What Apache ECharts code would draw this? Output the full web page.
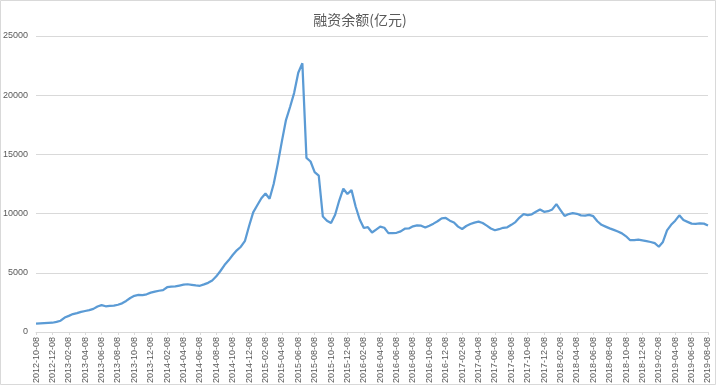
<!DOCTYPE html>
<html>
<head>
<meta charset="utf-8">
<script src="https://cdn.jsdelivr.net/npm/echarts@6/dist/echarts.min.js"></script>
<style>html,body{margin:0;padding:0;background:#fff;}#c{width:720px;height:386px;}</style>
</head>
<body>
<div id="c"></div>
<script>
var titleText = '融资余额(亿元)';
var startYear = 2012, startMonth = 10, endYear = 2019, endMonth = 8;
var yTicks = [0, 5000, 10000, 15000, 20000, 25000];

// semi-monthly observations (08 and 23 of each month), 亿元
var balance2012_2013 = [700, 720, 740, 760, 780, 850, 950, 1220, 1360, 1510, 1590, 1700, 1770, 1840, 1950, 2150,
  2270, 2170, 2200, 2230, 2300, 2420, 2620, 2870, 3050, 3130, 3120, 3180, 3320, 3400];
var balance2014 = [3480, 3540, 3780, 3830, 3850, 3920, 3990, 4030, 3980, 3930, 3900, 4020, 4150, 4350, 4700, 5150,
  5650, 6050, 6500, 6900, 7200, 7700, 8950, 10100, 10700];
var balance2015 = [11300, 11700, 11250, 12500, 14200, 16100, 17900, 19000, 20200, 21900, 22700, 14700, 14400, 13500,
  13200, 9750, 9400, 9200, 9900, 11100, 12100, 11650, 11980, 10600];
var balance2016 = [9500, 8780, 8850, 8400, 8650, 8900, 8800, 8350, 8350, 8380, 8500, 8720, 8740, 8920, 9000, 8980,
  8820, 8980, 9150, 9350, 9600, 9630, 9400, 9250];
var balance2017 = [8900, 8700, 8950, 9120, 9240, 9320, 9200, 8980, 8740, 8590, 8680, 8800, 8840, 9050, 9280, 9660,
  9950, 9870, 9940, 10150, 10350, 10150, 10200, 10350];
var balance2018 = [10800, 10300, 9800, 9960, 10030, 9980, 9850, 9830, 9890, 9780, 9350, 9050, 8900, 8750, 8620, 8480,
  8330, 8080, 7750, 7760, 7800, 7740, 7680, 7600];
var balance2019 = [7500, 7200, 7600, 8580, 9050, 9400, 9850, 9450, 9300, 9150, 9130, 9180, 9150, 9000];

var values = [].concat(balance2012_2013, balance2014, balance2015, balance2016, balance2017, balance2018, balance2019);

var dates = [];
(function () {
  var y = startYear, m = startMonth;
  while (y < endYear || (y === endYear && m <= endMonth)) {
    var mm = (m < 10 ? '0' : '') + m;
    dates.push(y + '-' + mm + '-08');
    if (!(y === endYear && m === endMonth)) dates.push(y + '-' + mm + '-23');
    m++; if (m > 12) { m = 1; y++; }
  }
})();

var chart = echarts.init(document.getElementById('c'));
var txt = '#595959';
var gridColor = '#d9d9d9';
chart.setOption({
  animation: false,
  backgroundColor: '#ffffff',
  title: {
    text: titleText, left: 'center', top: 8,
    textStyle: { fontSize: 14, fontWeight: 'normal', color: txt, fontFamily: 'Noto Sans CJK SC' }
  },
  graphic: [{
    type: 'rect', shape: { x: 0.5, y: 0.5, width: 715, height: 384 },
    style: { fill: 'none', stroke: gridColor, lineWidth: 1 }, silent: true
  }],
  grid: { left: 36, right: 12, top: 36, bottom: 51 },
  xAxis: {
    type: 'category', data: dates, boundaryGap: false,
    axisLine: { lineStyle: { color: gridColor } },
    axisTick: { show: true, interval: 3, length: 3, lineStyle: { color: gridColor } },
    axisLabel: {
      interval: 3, rotate: 90, fontSize: 9, color: txt, margin: 5,
      fontFamily: 'Liberation Sans Narrow, Liberation Sans, sans-serif'
    },
    splitLine: { show: false }
  },
  yAxis: {
    type: 'value', min: yTicks[0], max: yTicks[yTicks.length - 1], interval: yTicks[1] - yTicks[0],
    axisLine: { show: false }, axisTick: { show: false },
    axisLabel: {
      fontSize: 9, color: txt, margin: 8, fontFamily: 'Liberation Sans Narrow, Liberation Sans, sans-serif',
      formatter: function (v) { return String(v); }
    },
    splitLine: { lineStyle: { color: gridColor, width: 1 } }
  },
  series: [{
    type: 'line', data: values, showSymbol: false, smooth: false,
    lineStyle: { color: '#5B9BD5', width: 2.25 }, itemStyle: { color: '#5B9BD5' }
  }]
});
</script>
</body>
</html>
